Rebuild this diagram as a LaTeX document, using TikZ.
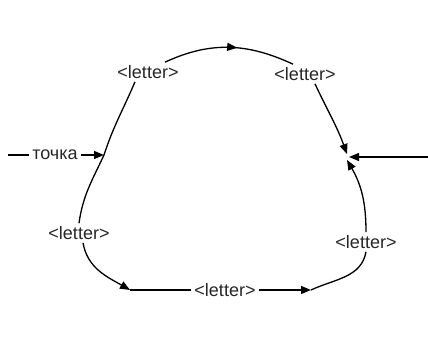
\documentclass[tikz,border=0pt]{standalone}
\usepackage{fontspec}
\setmainfont{Liberation Sans}
\usetikzlibrary{arrows.meta, decorations.markings, positioning}

\begin{document}
\begin{tikzpicture}[
    x=1pt, y=1pt, % pixel-like units
    track/.style={black, line width=1.3pt},
    tip/.style={-{Triangle[length=10pt, width=8pt]}},
    word/.style={font=\fontsize{18}{20}\selectfont, text=black!85, inner sep=3pt},
    midarrow/.style={
        decoration={markings, mark=at position 0.56 with {\arrow{Triangle[length=10pt, width=8pt]}}}, % Arrow on the top arc
        postaction={decorate}
    }
]

% Bounding box
\useasboundingbox (0,0) rectangle (428,350);

% Junction points
\coordinate (start) at (8,195);
\coordinate (join) at (104,195);
\coordinate (merge) at (347,193);
\coordinate (exit) at (428,193);
\coordinate (botA) at (130,60);
\coordinate (botB) at (311,60);

% Labels
\node[word] (tochka) at (55,195) {точка};
\node[word] (letterTL) at (148,278) {<letter>};
\node[word] (letterTR) at (305,276) {<letter>};
\node[word] (letterBL) at (79,117) {<letter>};
\node[word] (letterB) at (225,60) {<letter>};
\node[word] (letterBR) at (366,108) {<letter>};

% Entry
\draw[track] (start) -- (tochka);
\draw[track, tip] (tochka) -- (join);

% Upper branch
\draw[track] (join) to[out=72, in=-113] ([xshift=-13pt]letterTL.south);
\draw[track, midarrow] ([xshift=17pt]letterTL.north) to[out=25, in=155] ([xshift=-12pt]letterTR.north);
\draw[track, tip] ([xshift=10pt]letterTR.south) to[out=-65, in=110] ([yshift=3pt]merge);

% Right line
\draw[track, tip] (exit) -- ([xshift=2pt]merge);

% Lower branch
\draw[track] (join) to[out=-115, in=82] (letterBL.north);
\draw[track, tip] ([xshift=4pt]letterBL.south) to[out=-80, in=150] (botA);
\draw[track] (botA) -- (letterB);
\draw[track, tip] (letterB) -- (botB);
\draw[track] (botB) to[out=25, in=-100] (letterBR.south);
\draw[track, tip] (letterBR.north) to[out=90, in=-60] ([yshift=-3pt]merge);

\end{tikzpicture}
\end{document}
